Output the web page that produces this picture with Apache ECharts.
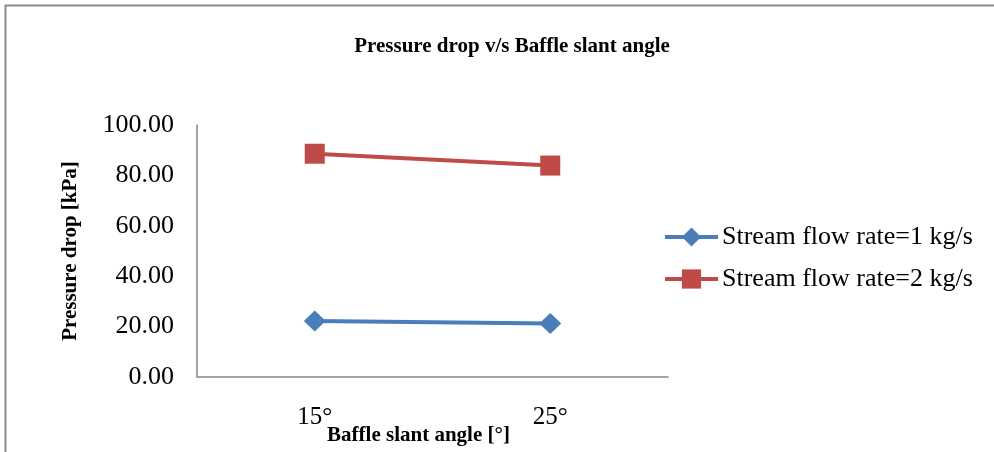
<!DOCTYPE html>
<html><head><meta charset="utf-8">
<script src="https://cdn.jsdelivr.net/npm/echarts@6/dist/echarts.min.js"></script>
<style>html,body{margin:0;padding:0;background:#fff}#c{width:994px;height:452px}</style>
</head><body><div id="c"></div>
<script>
const categories = ['15°', '25°'];
const flow1 = [22.2, 21.2];
const flow2 = [88.6, 83.9];
const seriesNames = ['Stream flow rate=1 kg/s', 'Stream flow rate=2 kg/s'];
const serif = '"Liberation Serif", "Times New Roman", serif';
const chart = echarts.init(document.getElementById('c'));
chart.setOption({
  animation: false,
  graphic: [{type:'rect', shape:{x:5.5, y:5.5, width:1010, height:470}, style:{fill:'none', stroke:'#8c8c8c', lineWidth:2}}],
  title: {text:'Pressure drop v/s Baffle slant angle', left:507, top:31, textAlign:'center',
    textStyle:{fontFamily:serif, fontWeight:'bold', fontSize:21, color:'#000'}},
  legend: {orient:'vertical', left:658, top:219, itemGap:16, itemWidth:53, itemHeight:24,
    lineStyle:{width:4},
    textStyle:{fontFamily:serif, fontSize:26, color:'#000', padding:[0,0,0,-1]},
    data:seriesNames},
  grid: {left:197, top:125, width:471, height:252, outerBoundsMode:'none', containLabel:false},
  xAxis: {type:'category', data:categories, boundaryGap:true,
    axisLine:{lineStyle:{color:'#868686', width:1.5}}, axisTick:{show:false},
    axisLabel:{fontFamily:serif, fontSize:25, color:'#000', margin:28},
    name:'Baffle slant angle [°]', nameLocation:'middle', nameGap:48, nameMoveOverlap:false,
    nameTextStyle:{fontFamily:serif, fontWeight:'bold', fontSize:21, color:'#000', padding:[0,0,0,-28]}},
  yAxis: {type:'value', min:0, max:100, interval:20, splitLine:{show:false},
    axisLine:{show:true, lineStyle:{color:'#868686', width:1.5}}, axisTick:{show:false},
    axisLabel:{fontFamily:serif, fontSize:26, color:'#000', margin:23, formatter:v=>v.toFixed(2)},
    name:'Pressure drop [kPa]', nameLocation:'middle', nameGap:116, nameMoveOverlap:false,
    nameTextStyle:{fontFamily:serif, fontWeight:'bold', fontSize:21, color:'#000'}},
  series: [
    {name:seriesNames[0], type:'line', data:flow1, symbol:'diamond', symbolSize:[22,21],
      lineStyle:{color:'#4a7ebb', width:4}, itemStyle:{color:'#4a7ebb'}},
    {name:seriesNames[1], type:'line', data:flow2, symbol:'rect', symbolSize:20,
      lineStyle:{color:'#be4b48', width:4}, itemStyle:{color:'#be4b48'}}
  ]
});
</script></body></html>
